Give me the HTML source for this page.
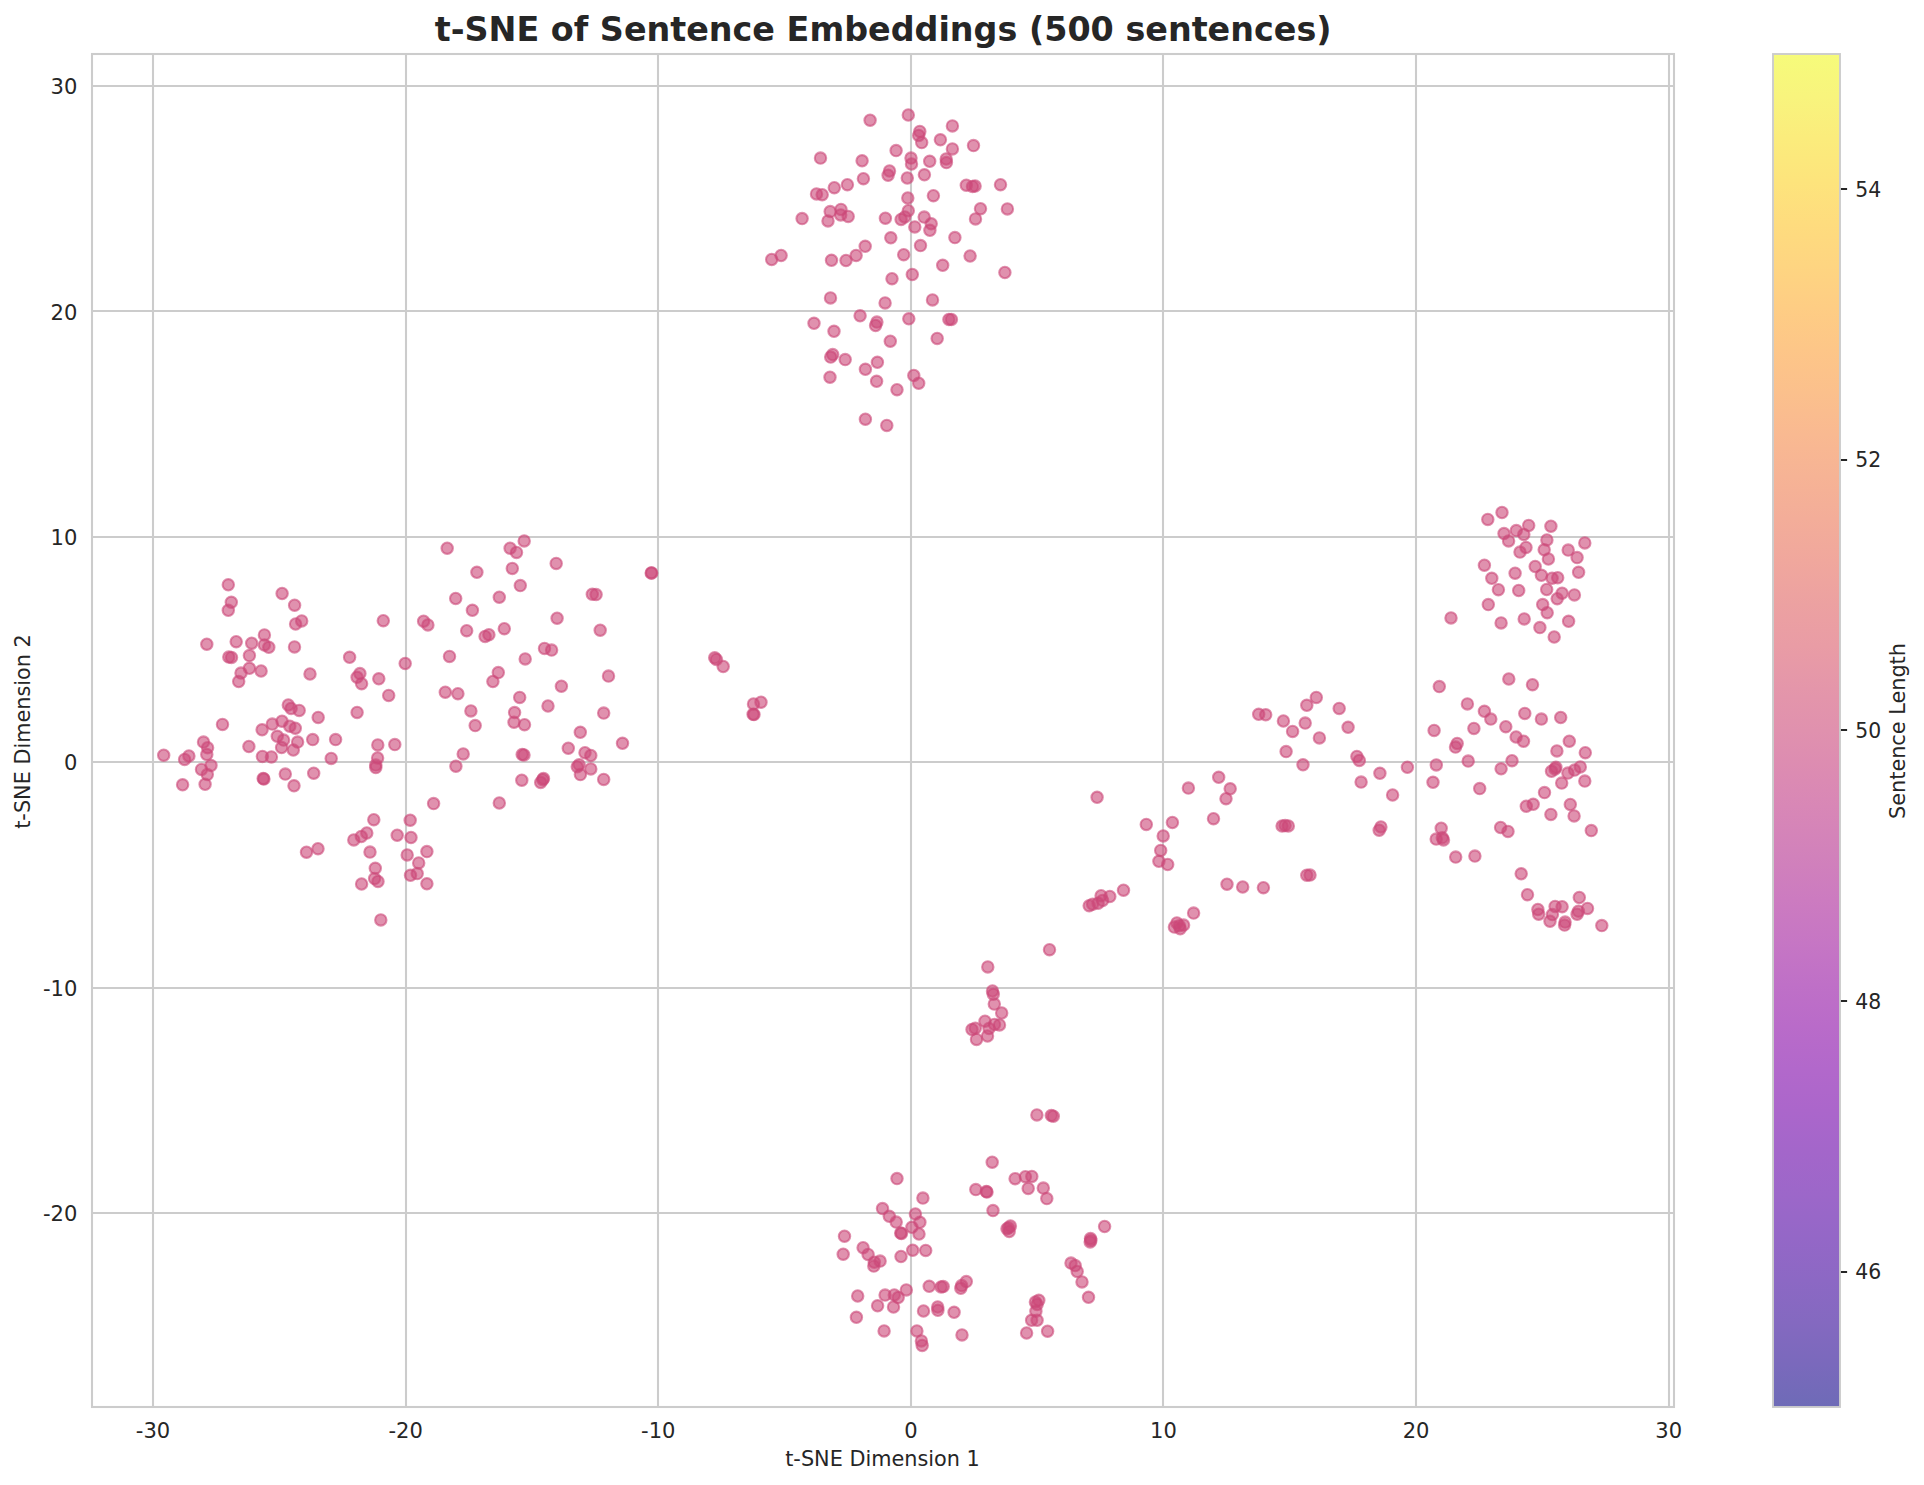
<!DOCTYPE html>
<html><head><meta charset="utf-8"><title>t-SNE of Sentence Embeddings</title>
<style>html,body{margin:0;padding:0;background:#fff;overflow:hidden;}svg{display:block;}text{font-family:"DejaVu Sans","Liberation Sans",sans-serif;fill:#262626;}</style></head><body>
<svg width="1924" height="1485" viewBox="0 0 1924 1485">
<rect width="1924" height="1485" fill="#ffffff"/>
<defs><linearGradient id="cb" x1="0" y1="0" x2="0" y2="1"><stop offset="0.0000" stop-color="#f6fb7a"/><stop offset="0.0312" stop-color="#f8f47d"/><stop offset="0.0625" stop-color="#fbec7c"/><stop offset="0.0938" stop-color="#fde47c"/><stop offset="0.1250" stop-color="#fedc7e"/><stop offset="0.1562" stop-color="#fed581"/><stop offset="0.1875" stop-color="#fecd84"/><stop offset="0.2188" stop-color="#fdc688"/><stop offset="0.2500" stop-color="#fbc08c"/><stop offset="0.2812" stop-color="#f9b991"/><stop offset="0.3125" stop-color="#f6b395"/><stop offset="0.3438" stop-color="#f3ad99"/><stop offset="0.3750" stop-color="#f0a79d"/><stop offset="0.4062" stop-color="#eca1a1"/><stop offset="0.4375" stop-color="#e99ca5"/><stop offset="0.4688" stop-color="#e496aa"/><stop offset="0.5000" stop-color="#e091ae"/><stop offset="0.5312" stop-color="#dc8bb2"/><stop offset="0.5625" stop-color="#d786b7"/><stop offset="0.5938" stop-color="#d181bb"/><stop offset="0.6250" stop-color="#cc7bc0"/><stop offset="0.6562" stop-color="#c676c4"/><stop offset="0.6875" stop-color="#bf70c7"/><stop offset="0.7188" stop-color="#b96bc9"/><stop offset="0.7500" stop-color="#b268cb"/><stop offset="0.7812" stop-color="#ab66cb"/><stop offset="0.8125" stop-color="#a366ca"/><stop offset="0.8438" stop-color="#9c67c9"/><stop offset="0.8750" stop-color="#9467c7"/><stop offset="0.9062" stop-color="#8c68c4"/><stop offset="0.9375" stop-color="#8469c0"/><stop offset="0.9688" stop-color="#7a69bc"/><stop offset="1.0000" stop-color="#6e6bb7"/></linearGradient>
<clipPath id="ax"><rect x="92" y="54" width="1582" height="1353"/></clipPath></defs>
<g stroke="#cccccc" stroke-width="2.08" fill="none"><line x1="153" y1="54" x2="153" y2="1407"/><line x1="406" y1="54" x2="406" y2="1407"/><line x1="658" y1="54" x2="658" y2="1407"/><line x1="911" y1="54" x2="911" y2="1407"/><line x1="1163" y1="54" x2="1163" y2="1407"/><line x1="1416" y1="54" x2="1416" y2="1407"/><line x1="1669" y1="54" x2="1669" y2="1407"/><line x1="92" y1="86" x2="1674" y2="86"/><line x1="92" y1="311" x2="1674" y2="311"/><line x1="92" y1="537" x2="1674" y2="537"/><line x1="92" y1="762" x2="1674" y2="762"/><line x1="92" y1="988" x2="1674" y2="988"/><line x1="92" y1="1213" x2="1674" y2="1213"/></g>
<g clip-path="url(#ax)" fill="#cc4778" fill-opacity="0.6" stroke="#cc4778" stroke-opacity="0.6" stroke-width="2.08"><circle cx="908.3" cy="115.0" r="5.7"/>
<circle cx="870.1" cy="120.2" r="5.7"/>
<circle cx="952.4" cy="125.9" r="5.7"/>
<circle cx="919.8" cy="131.4" r="5.7"/>
<circle cx="918.7" cy="135.4" r="5.7"/>
<circle cx="921.7" cy="142.6" r="5.7"/>
<circle cx="940.4" cy="139.8" r="5.7"/>
<circle cx="973.5" cy="145.6" r="5.7"/>
<circle cx="952.4" cy="148.9" r="5.7"/>
<circle cx="896.1" cy="150.6" r="5.7"/>
<circle cx="820.5" cy="158.1" r="5.7"/>
<circle cx="862.1" cy="160.8" r="5.7"/>
<circle cx="911.0" cy="158.1" r="5.7"/>
<circle cx="911.5" cy="164.0" r="5.7"/>
<circle cx="929.7" cy="161.3" r="5.7"/>
<circle cx="946.2" cy="159.0" r="5.7"/>
<circle cx="946.4" cy="162.6" r="5.7"/>
<circle cx="889.5" cy="171.0" r="5.7"/>
<circle cx="888.1" cy="175.2" r="5.7"/>
<circle cx="924.4" cy="174.8" r="5.7"/>
<circle cx="907.3" cy="178.0" r="5.7"/>
<circle cx="863.4" cy="178.7" r="5.7"/>
<circle cx="847.4" cy="184.7" r="5.7"/>
<circle cx="834.3" cy="187.7" r="5.7"/>
<circle cx="816.5" cy="193.9" r="5.7"/>
<circle cx="822.2" cy="194.7" r="5.7"/>
<circle cx="966.3" cy="185.2" r="5.7"/>
<circle cx="972.5" cy="186.5" r="5.7"/>
<circle cx="975.1" cy="186.0" r="5.7"/>
<circle cx="1000.5" cy="184.7" r="5.7"/>
<circle cx="933.4" cy="195.7" r="5.7"/>
<circle cx="907.8" cy="198.0" r="5.7"/>
<circle cx="980.5" cy="208.7" r="5.7"/>
<circle cx="1007.4" cy="208.9" r="5.7"/>
<circle cx="908.3" cy="210.7" r="5.7"/>
<circle cx="841.0" cy="209.4" r="5.7"/>
<circle cx="830.2" cy="211.6" r="5.7"/>
<circle cx="840.7" cy="214.9" r="5.7"/>
<circle cx="848.2" cy="216.4" r="5.7"/>
<circle cx="828.0" cy="220.9" r="5.7"/>
<circle cx="802.1" cy="218.6" r="5.7"/>
<circle cx="885.4" cy="218.2" r="5.7"/>
<circle cx="904.8" cy="216.9" r="5.7"/>
<circle cx="901.1" cy="219.4" r="5.7"/>
<circle cx="924.2" cy="217.1" r="5.7"/>
<circle cx="931.2" cy="223.8" r="5.7"/>
<circle cx="929.9" cy="230.3" r="5.7"/>
<circle cx="914.8" cy="226.9" r="5.7"/>
<circle cx="975.5" cy="218.9" r="5.7"/>
<circle cx="890.8" cy="237.8" r="5.7"/>
<circle cx="954.9" cy="237.6" r="5.7"/>
<circle cx="865.2" cy="246.3" r="5.7"/>
<circle cx="920.5" cy="245.6" r="5.7"/>
<circle cx="856.1" cy="255.5" r="5.7"/>
<circle cx="846.0" cy="260.5" r="5.7"/>
<circle cx="831.5" cy="260.3" r="5.7"/>
<circle cx="781.1" cy="255.5" r="5.7"/>
<circle cx="771.7" cy="259.5" r="5.7"/>
<circle cx="903.7" cy="254.7" r="5.7"/>
<circle cx="970.1" cy="256.0" r="5.7"/>
<circle cx="942.7" cy="265.3" r="5.7"/>
<circle cx="912.3" cy="274.5" r="5.7"/>
<circle cx="892.0" cy="278.7" r="5.7"/>
<circle cx="1004.9" cy="272.5" r="5.7"/>
<circle cx="830.5" cy="297.9" r="5.7"/>
<circle cx="885.1" cy="302.9" r="5.7"/>
<circle cx="932.5" cy="299.9" r="5.7"/>
<circle cx="860.1" cy="315.8" r="5.7"/>
<circle cx="908.8" cy="318.8" r="5.7"/>
<circle cx="948.9" cy="319.4" r="5.7"/>
<circle cx="951.4" cy="319.4" r="5.7"/>
<circle cx="814.0" cy="323.3" r="5.7"/>
<circle cx="876.9" cy="322.1" r="5.7"/>
<circle cx="875.6" cy="325.5" r="5.7"/>
<circle cx="834.0" cy="331.3" r="5.7"/>
<circle cx="890.3" cy="341.2" r="5.7"/>
<circle cx="937.2" cy="338.4" r="5.7"/>
<circle cx="832.7" cy="354.6" r="5.7"/>
<circle cx="830.7" cy="357.1" r="5.7"/>
<circle cx="845.2" cy="359.6" r="5.7"/>
<circle cx="877.4" cy="362.3" r="5.7"/>
<circle cx="865.4" cy="369.3" r="5.7"/>
<circle cx="830.0" cy="377.2" r="5.7"/>
<circle cx="876.6" cy="381.3" r="5.7"/>
<circle cx="913.8" cy="375.5" r="5.7"/>
<circle cx="918.7" cy="383.2" r="5.7"/>
<circle cx="897.0" cy="389.7" r="5.7"/>
<circle cx="865.4" cy="419.2" r="5.7"/>
<circle cx="886.8" cy="425.4" r="5.7"/>
<circle cx="228.3" cy="584.8" r="5.7"/>
<circle cx="231.3" cy="602.3" r="5.7"/>
<circle cx="228.3" cy="610.3" r="5.7"/>
<circle cx="282.1" cy="593.5" r="5.7"/>
<circle cx="294.6" cy="605.2" r="5.7"/>
<circle cx="301.7" cy="620.9" r="5.7"/>
<circle cx="295.6" cy="624.0" r="5.7"/>
<circle cx="383.3" cy="620.7" r="5.7"/>
<circle cx="423.6" cy="621.2" r="5.7"/>
<circle cx="427.9" cy="624.9" r="5.7"/>
<circle cx="264.4" cy="634.9" r="5.7"/>
<circle cx="236.2" cy="641.7" r="5.7"/>
<circle cx="251.7" cy="643.2" r="5.7"/>
<circle cx="206.8" cy="644.2" r="5.7"/>
<circle cx="264.4" cy="644.9" r="5.7"/>
<circle cx="268.8" cy="647.3" r="5.7"/>
<circle cx="294.5" cy="646.9" r="5.7"/>
<circle cx="228.8" cy="657.1" r="5.7"/>
<circle cx="231.5" cy="657.4" r="5.7"/>
<circle cx="249.4" cy="655.6" r="5.7"/>
<circle cx="349.6" cy="657.3" r="5.7"/>
<circle cx="405.2" cy="663.5" r="5.7"/>
<circle cx="249.4" cy="668.3" r="5.7"/>
<circle cx="261.1" cy="671.0" r="5.7"/>
<circle cx="241.0" cy="673.1" r="5.7"/>
<circle cx="238.7" cy="681.5" r="5.7"/>
<circle cx="310.0" cy="674.0" r="5.7"/>
<circle cx="359.9" cy="673.6" r="5.7"/>
<circle cx="357.1" cy="677.3" r="5.7"/>
<circle cx="361.6" cy="683.7" r="5.7"/>
<circle cx="378.8" cy="678.8" r="5.7"/>
<circle cx="388.7" cy="695.4" r="5.7"/>
<circle cx="445.3" cy="692.2" r="5.7"/>
<circle cx="288.3" cy="705.0" r="5.7"/>
<circle cx="291.1" cy="708.4" r="5.7"/>
<circle cx="299.2" cy="710.4" r="5.7"/>
<circle cx="318.2" cy="717.4" r="5.7"/>
<circle cx="357.1" cy="712.4" r="5.7"/>
<circle cx="222.5" cy="724.4" r="5.7"/>
<circle cx="282.0" cy="721.2" r="5.7"/>
<circle cx="272.3" cy="724.1" r="5.7"/>
<circle cx="289.8" cy="726.2" r="5.7"/>
<circle cx="295.3" cy="728.2" r="5.7"/>
<circle cx="262.1" cy="729.8" r="5.7"/>
<circle cx="277.3" cy="736.3" r="5.7"/>
<circle cx="283.6" cy="740.1" r="5.7"/>
<circle cx="297.6" cy="742.1" r="5.7"/>
<circle cx="312.7" cy="739.6" r="5.7"/>
<circle cx="335.6" cy="739.6" r="5.7"/>
<circle cx="203.5" cy="742.1" r="5.7"/>
<circle cx="377.8" cy="744.9" r="5.7"/>
<circle cx="394.8" cy="744.6" r="5.7"/>
<circle cx="447.2" cy="548.2" r="5.7"/>
<circle cx="524.2" cy="540.9" r="5.7"/>
<circle cx="510.1" cy="548.2" r="5.7"/>
<circle cx="516.5" cy="552.4" r="5.7"/>
<circle cx="556.2" cy="563.4" r="5.7"/>
<circle cx="512.3" cy="568.4" r="5.7"/>
<circle cx="476.9" cy="572.3" r="5.7"/>
<circle cx="651.2" cy="572.9" r="5.7"/>
<circle cx="651.7" cy="572.9" r="5.7"/>
<circle cx="520.3" cy="585.6" r="5.7"/>
<circle cx="499.3" cy="597.2" r="5.7"/>
<circle cx="455.7" cy="598.5" r="5.7"/>
<circle cx="592.3" cy="594.3" r="5.7"/>
<circle cx="596.1" cy="594.6" r="5.7"/>
<circle cx="472.4" cy="610.3" r="5.7"/>
<circle cx="557.1" cy="618.2" r="5.7"/>
<circle cx="504.3" cy="628.7" r="5.7"/>
<circle cx="466.7" cy="630.7" r="5.7"/>
<circle cx="488.9" cy="634.7" r="5.7"/>
<circle cx="485.1" cy="636.4" r="5.7"/>
<circle cx="600.2" cy="630.2" r="5.7"/>
<circle cx="544.5" cy="648.4" r="5.7"/>
<circle cx="551.6" cy="650.1" r="5.7"/>
<circle cx="449.5" cy="656.4" r="5.7"/>
<circle cx="525.2" cy="658.9" r="5.7"/>
<circle cx="714.7" cy="657.8" r="5.7"/>
<circle cx="716.4" cy="659.4" r="5.7"/>
<circle cx="723.2" cy="666.5" r="5.7"/>
<circle cx="498.3" cy="672.6" r="5.7"/>
<circle cx="492.9" cy="681.5" r="5.7"/>
<circle cx="608.5" cy="676.1" r="5.7"/>
<circle cx="561.4" cy="686.2" r="5.7"/>
<circle cx="457.9" cy="693.7" r="5.7"/>
<circle cx="519.7" cy="697.4" r="5.7"/>
<circle cx="548.0" cy="706.0" r="5.7"/>
<circle cx="470.9" cy="710.9" r="5.7"/>
<circle cx="514.6" cy="712.6" r="5.7"/>
<circle cx="603.7" cy="713.1" r="5.7"/>
<circle cx="753.5" cy="704.0" r="5.7"/>
<circle cx="761.0" cy="702.2" r="5.7"/>
<circle cx="753.1" cy="714.2" r="5.7"/>
<circle cx="754.0" cy="714.6" r="5.7"/>
<circle cx="514.0" cy="722.2" r="5.7"/>
<circle cx="524.5" cy="724.7" r="5.7"/>
<circle cx="475.2" cy="725.6" r="5.7"/>
<circle cx="580.3" cy="732.3" r="5.7"/>
<circle cx="622.5" cy="743.3" r="5.7"/>
<circle cx="207.6" cy="747.7" r="5.7"/>
<circle cx="206.8" cy="754.4" r="5.7"/>
<circle cx="248.9" cy="746.5" r="5.7"/>
<circle cx="281.6" cy="747.5" r="5.7"/>
<circle cx="293.3" cy="750.0" r="5.7"/>
<circle cx="163.7" cy="755.2" r="5.7"/>
<circle cx="188.9" cy="756.0" r="5.7"/>
<circle cx="184.6" cy="759.4" r="5.7"/>
<circle cx="262.4" cy="756.4" r="5.7"/>
<circle cx="271.4" cy="756.9" r="5.7"/>
<circle cx="331.2" cy="758.4" r="5.7"/>
<circle cx="377.6" cy="758.0" r="5.7"/>
<circle cx="375.8" cy="765.1" r="5.7"/>
<circle cx="375.8" cy="767.6" r="5.7"/>
<circle cx="211.0" cy="765.4" r="5.7"/>
<circle cx="201.5" cy="769.4" r="5.7"/>
<circle cx="207.3" cy="774.6" r="5.7"/>
<circle cx="205.1" cy="784.3" r="5.7"/>
<circle cx="182.6" cy="784.8" r="5.7"/>
<circle cx="263.2" cy="778.4" r="5.7"/>
<circle cx="263.9" cy="779.1" r="5.7"/>
<circle cx="285.3" cy="774.1" r="5.7"/>
<circle cx="313.7" cy="773.2" r="5.7"/>
<circle cx="294.0" cy="785.8" r="5.7"/>
<circle cx="433.6" cy="803.6" r="5.7"/>
<circle cx="373.8" cy="819.7" r="5.7"/>
<circle cx="410.2" cy="820.2" r="5.7"/>
<circle cx="366.8" cy="833.0" r="5.7"/>
<circle cx="361.3" cy="836.5" r="5.7"/>
<circle cx="353.8" cy="839.9" r="5.7"/>
<circle cx="397.2" cy="835.2" r="5.7"/>
<circle cx="411.0" cy="837.5" r="5.7"/>
<circle cx="318.0" cy="848.7" r="5.7"/>
<circle cx="306.5" cy="852.2" r="5.7"/>
<circle cx="370.0" cy="852.1" r="5.7"/>
<circle cx="407.2" cy="854.9" r="5.7"/>
<circle cx="426.9" cy="851.6" r="5.7"/>
<circle cx="418.7" cy="862.9" r="5.7"/>
<circle cx="375.3" cy="868.3" r="5.7"/>
<circle cx="417.2" cy="873.6" r="5.7"/>
<circle cx="410.5" cy="875.3" r="5.7"/>
<circle cx="374.6" cy="878.6" r="5.7"/>
<circle cx="378.0" cy="881.4" r="5.7"/>
<circle cx="361.6" cy="884.0" r="5.7"/>
<circle cx="426.9" cy="883.8" r="5.7"/>
<circle cx="380.8" cy="919.9" r="5.7"/>
<circle cx="568.3" cy="748.2" r="5.7"/>
<circle cx="585.0" cy="752.7" r="5.7"/>
<circle cx="590.8" cy="755.5" r="5.7"/>
<circle cx="463.2" cy="753.9" r="5.7"/>
<circle cx="522.2" cy="754.5" r="5.7"/>
<circle cx="524.0" cy="754.9" r="5.7"/>
<circle cx="455.9" cy="766.2" r="5.7"/>
<circle cx="579.1" cy="764.7" r="5.7"/>
<circle cx="577.3" cy="766.7" r="5.7"/>
<circle cx="580.4" cy="774.6" r="5.7"/>
<circle cx="590.8" cy="768.9" r="5.7"/>
<circle cx="603.7" cy="779.4" r="5.7"/>
<circle cx="521.8" cy="780.2" r="5.7"/>
<circle cx="543.5" cy="778.4" r="5.7"/>
<circle cx="542.7" cy="779.7" r="5.7"/>
<circle cx="540.7" cy="782.4" r="5.7"/>
<circle cx="499.3" cy="803.0" r="5.7"/>
<circle cx="1502.0" cy="512.5" r="5.7"/>
<circle cx="1487.8" cy="519.4" r="5.7"/>
<circle cx="1528.7" cy="525.4" r="5.7"/>
<circle cx="1550.9" cy="526.2" r="5.7"/>
<circle cx="1516.3" cy="530.6" r="5.7"/>
<circle cx="1523.8" cy="534.4" r="5.7"/>
<circle cx="1504.0" cy="533.6" r="5.7"/>
<circle cx="1508.6" cy="540.9" r="5.7"/>
<circle cx="1546.9" cy="539.9" r="5.7"/>
<circle cx="1584.8" cy="542.9" r="5.7"/>
<circle cx="1526.0" cy="547.4" r="5.7"/>
<circle cx="1520.0" cy="552.1" r="5.7"/>
<circle cx="1544.2" cy="549.8" r="5.7"/>
<circle cx="1568.2" cy="550.1" r="5.7"/>
<circle cx="1577.1" cy="557.6" r="5.7"/>
<circle cx="1548.4" cy="559.0" r="5.7"/>
<circle cx="1484.4" cy="565.2" r="5.7"/>
<circle cx="1535.2" cy="566.5" r="5.7"/>
<circle cx="1515.1" cy="573.2" r="5.7"/>
<circle cx="1578.6" cy="572.3" r="5.7"/>
<circle cx="1541.4" cy="575.3" r="5.7"/>
<circle cx="1552.1" cy="578.2" r="5.7"/>
<circle cx="1557.7" cy="577.7" r="5.7"/>
<circle cx="1491.8" cy="578.3" r="5.7"/>
<circle cx="1498.4" cy="589.7" r="5.7"/>
<circle cx="1518.7" cy="590.5" r="5.7"/>
<circle cx="1546.7" cy="589.5" r="5.7"/>
<circle cx="1562.1" cy="593.2" r="5.7"/>
<circle cx="1574.4" cy="594.9" r="5.7"/>
<circle cx="1557.2" cy="598.7" r="5.7"/>
<circle cx="1488.3" cy="604.6" r="5.7"/>
<circle cx="1542.7" cy="604.6" r="5.7"/>
<circle cx="1547.2" cy="612.7" r="5.7"/>
<circle cx="1451.0" cy="617.9" r="5.7"/>
<circle cx="1524.2" cy="618.9" r="5.7"/>
<circle cx="1501.1" cy="622.9" r="5.7"/>
<circle cx="1568.6" cy="621.3" r="5.7"/>
<circle cx="1539.9" cy="627.6" r="5.7"/>
<circle cx="1554.2" cy="637.0" r="5.7"/>
<circle cx="1508.8" cy="679.0" r="5.7"/>
<circle cx="1532.5" cy="684.7" r="5.7"/>
<circle cx="1439.3" cy="686.6" r="5.7"/>
<circle cx="1467.4" cy="703.9" r="5.7"/>
<circle cx="1484.4" cy="711.3" r="5.7"/>
<circle cx="1524.8" cy="713.4" r="5.7"/>
<circle cx="1490.8" cy="719.1" r="5.7"/>
<circle cx="1541.4" cy="719.1" r="5.7"/>
<circle cx="1560.7" cy="717.5" r="5.7"/>
<circle cx="1505.8" cy="726.7" r="5.7"/>
<circle cx="1473.9" cy="728.4" r="5.7"/>
<circle cx="1434.1" cy="730.4" r="5.7"/>
<circle cx="1516.1" cy="737.0" r="5.7"/>
<circle cx="1523.5" cy="741.2" r="5.7"/>
<circle cx="1569.3" cy="741.2" r="5.7"/>
<circle cx="1457.2" cy="743.4" r="5.7"/>
<circle cx="1455.5" cy="747.1" r="5.7"/>
<circle cx="1556.9" cy="750.9" r="5.7"/>
<circle cx="1585.3" cy="752.7" r="5.7"/>
<circle cx="1468.2" cy="761.1" r="5.7"/>
<circle cx="1512.0" cy="760.7" r="5.7"/>
<circle cx="1436.3" cy="764.9" r="5.7"/>
<circle cx="1407.4" cy="767.3" r="5.7"/>
<circle cx="1501.1" cy="768.8" r="5.7"/>
<circle cx="1555.9" cy="767.3" r="5.7"/>
<circle cx="1555.1" cy="768.9" r="5.7"/>
<circle cx="1551.5" cy="771.3" r="5.7"/>
<circle cx="1580.3" cy="766.9" r="5.7"/>
<circle cx="1574.6" cy="770.1" r="5.7"/>
<circle cx="1567.9" cy="773.1" r="5.7"/>
<circle cx="1379.9" cy="773.3" r="5.7"/>
<circle cx="1433.0" cy="782.3" r="5.7"/>
<circle cx="1561.7" cy="783.1" r="5.7"/>
<circle cx="1584.8" cy="781.1" r="5.7"/>
<circle cx="1479.7" cy="788.6" r="5.7"/>
<circle cx="1544.5" cy="792.6" r="5.7"/>
<circle cx="1392.6" cy="795.0" r="5.7"/>
<circle cx="1533.2" cy="804.3" r="5.7"/>
<circle cx="1526.3" cy="806.2" r="5.7"/>
<circle cx="1570.3" cy="804.5" r="5.7"/>
<circle cx="1550.9" cy="814.4" r="5.7"/>
<circle cx="1574.1" cy="815.9" r="5.7"/>
<circle cx="1380.9" cy="826.9" r="5.7"/>
<circle cx="1379.2" cy="830.2" r="5.7"/>
<circle cx="1441.2" cy="828.2" r="5.7"/>
<circle cx="1436.2" cy="839.1" r="5.7"/>
<circle cx="1442.3" cy="837.7" r="5.7"/>
<circle cx="1443.5" cy="839.9" r="5.7"/>
<circle cx="1500.6" cy="827.5" r="5.7"/>
<circle cx="1508.0" cy="831.4" r="5.7"/>
<circle cx="1591.3" cy="830.6" r="5.7"/>
<circle cx="1455.7" cy="857.1" r="5.7"/>
<circle cx="1474.9" cy="856.1" r="5.7"/>
<circle cx="1521.2" cy="873.8" r="5.7"/>
<circle cx="1527.5" cy="894.7" r="5.7"/>
<circle cx="1579.3" cy="897.5" r="5.7"/>
<circle cx="1537.9" cy="909.5" r="5.7"/>
<circle cx="1538.7" cy="914.2" r="5.7"/>
<circle cx="1555.1" cy="906.4" r="5.7"/>
<circle cx="1562.1" cy="906.7" r="5.7"/>
<circle cx="1552.4" cy="914.6" r="5.7"/>
<circle cx="1550.0" cy="921.2" r="5.7"/>
<circle cx="1587.5" cy="908.4" r="5.7"/>
<circle cx="1578.4" cy="911.2" r="5.7"/>
<circle cx="1577.1" cy="914.2" r="5.7"/>
<circle cx="1565.1" cy="922.1" r="5.7"/>
<circle cx="1564.6" cy="925.1" r="5.7"/>
<circle cx="1601.8" cy="925.6" r="5.7"/>
<circle cx="1316.3" cy="697.4" r="5.7"/>
<circle cx="1306.8" cy="705.3" r="5.7"/>
<circle cx="1339.2" cy="708.4" r="5.7"/>
<circle cx="1258.7" cy="714.3" r="5.7"/>
<circle cx="1265.7" cy="714.8" r="5.7"/>
<circle cx="1283.4" cy="721.0" r="5.7"/>
<circle cx="1305.2" cy="723.1" r="5.7"/>
<circle cx="1348.1" cy="727.3" r="5.7"/>
<circle cx="1292.6" cy="731.4" r="5.7"/>
<circle cx="1319.4" cy="737.9" r="5.7"/>
<circle cx="1286.1" cy="751.6" r="5.7"/>
<circle cx="1356.9" cy="756.4" r="5.7"/>
<circle cx="1359.3" cy="760.4" r="5.7"/>
<circle cx="1303.0" cy="764.8" r="5.7"/>
<circle cx="1361.1" cy="782.1" r="5.7"/>
<circle cx="1218.7" cy="777.3" r="5.7"/>
<circle cx="1230.2" cy="788.8" r="5.7"/>
<circle cx="1188.4" cy="788.1" r="5.7"/>
<circle cx="1226.0" cy="798.7" r="5.7"/>
<circle cx="1097.1" cy="797.3" r="5.7"/>
<circle cx="1213.5" cy="818.7" r="5.7"/>
<circle cx="1172.4" cy="822.5" r="5.7"/>
<circle cx="1146.3" cy="824.4" r="5.7"/>
<circle cx="1163.2" cy="835.9" r="5.7"/>
<circle cx="1160.7" cy="850.4" r="5.7"/>
<circle cx="1158.9" cy="861.3" r="5.7"/>
<circle cx="1167.7" cy="864.5" r="5.7"/>
<circle cx="1282.1" cy="826.0" r="5.7"/>
<circle cx="1285.1" cy="825.4" r="5.7"/>
<circle cx="1288.3" cy="825.9" r="5.7"/>
<circle cx="1306.8" cy="875.3" r="5.7"/>
<circle cx="1310.0" cy="875.1" r="5.7"/>
<circle cx="1227.0" cy="884.2" r="5.7"/>
<circle cx="1242.7" cy="887.0" r="5.7"/>
<circle cx="1263.4" cy="887.7" r="5.7"/>
<circle cx="1123.5" cy="890.2" r="5.7"/>
<circle cx="1109.8" cy="896.5" r="5.7"/>
<circle cx="1101.1" cy="895.7" r="5.7"/>
<circle cx="1102.6" cy="900.4" r="5.7"/>
<circle cx="1098.1" cy="903.2" r="5.7"/>
<circle cx="1092.6" cy="904.2" r="5.7"/>
<circle cx="1089.2" cy="905.7" r="5.7"/>
<circle cx="1193.6" cy="913.1" r="5.7"/>
<circle cx="1176.9" cy="922.9" r="5.7"/>
<circle cx="1183.6" cy="925.1" r="5.7"/>
<circle cx="1174.4" cy="927.1" r="5.7"/>
<circle cx="1180.2" cy="928.8" r="5.7"/>
<circle cx="1179.4" cy="925.7" r="5.7"/>
<circle cx="1049.5" cy="949.7" r="5.7"/>
<circle cx="987.8" cy="966.9" r="5.7"/>
<circle cx="992.5" cy="991.0" r="5.7"/>
<circle cx="993.3" cy="994.3" r="5.7"/>
<circle cx="994.3" cy="1004.1" r="5.7"/>
<circle cx="1001.7" cy="1013.0" r="5.7"/>
<circle cx="985.0" cy="1021.2" r="5.7"/>
<circle cx="999.5" cy="1024.9" r="5.7"/>
<circle cx="994.5" cy="1024.4" r="5.7"/>
<circle cx="989.0" cy="1028.5" r="5.7"/>
<circle cx="972.0" cy="1029.4" r="5.7"/>
<circle cx="975.3" cy="1028.2" r="5.7"/>
<circle cx="987.5" cy="1036.0" r="5.7"/>
<circle cx="976.5" cy="1039.4" r="5.7"/>
<circle cx="1036.9" cy="1114.9" r="5.7"/>
<circle cx="1051.3" cy="1115.4" r="5.7"/>
<circle cx="1053.3" cy="1116.2" r="5.7"/>
<circle cx="992.2" cy="1162.2" r="5.7"/>
<circle cx="897.0" cy="1178.6" r="5.7"/>
<circle cx="1015.1" cy="1178.7" r="5.7"/>
<circle cx="1025.4" cy="1176.7" r="5.7"/>
<circle cx="1031.8" cy="1176.4" r="5.7"/>
<circle cx="1028.2" cy="1188.4" r="5.7"/>
<circle cx="1043.3" cy="1188.1" r="5.7"/>
<circle cx="1046.8" cy="1198.6" r="5.7"/>
<circle cx="975.8" cy="1189.6" r="5.7"/>
<circle cx="986.3" cy="1191.6" r="5.7"/>
<circle cx="987.0" cy="1192.1" r="5.7"/>
<circle cx="922.9" cy="1198.1" r="5.7"/>
<circle cx="882.5" cy="1208.6" r="5.7"/>
<circle cx="993.0" cy="1210.6" r="5.7"/>
<circle cx="889.3" cy="1216.3" r="5.7"/>
<circle cx="915.4" cy="1214.0" r="5.7"/>
<circle cx="896.2" cy="1222.1" r="5.7"/>
<circle cx="919.9" cy="1222.3" r="5.7"/>
<circle cx="911.9" cy="1227.3" r="5.7"/>
<circle cx="900.7" cy="1233.0" r="5.7"/>
<circle cx="901.5" cy="1233.5" r="5.7"/>
<circle cx="919.0" cy="1234.0" r="5.7"/>
<circle cx="1010.4" cy="1226.0" r="5.7"/>
<circle cx="1007.0" cy="1228.8" r="5.7"/>
<circle cx="1009.2" cy="1231.5" r="5.7"/>
<circle cx="1008.7" cy="1227.7" r="5.7"/>
<circle cx="1104.6" cy="1226.5" r="5.7"/>
<circle cx="1090.5" cy="1238.5" r="5.7"/>
<circle cx="1090.9" cy="1240.2" r="5.7"/>
<circle cx="1090.2" cy="1241.9" r="5.7"/>
<circle cx="844.5" cy="1236.2" r="5.7"/>
<circle cx="863.1" cy="1247.7" r="5.7"/>
<circle cx="843.2" cy="1254.2" r="5.7"/>
<circle cx="868.1" cy="1254.4" r="5.7"/>
<circle cx="912.7" cy="1250.2" r="5.7"/>
<circle cx="925.7" cy="1250.4" r="5.7"/>
<circle cx="901.0" cy="1256.5" r="5.7"/>
<circle cx="880.1" cy="1261.1" r="5.7"/>
<circle cx="874.3" cy="1262.2" r="5.7"/>
<circle cx="873.8" cy="1266.1" r="5.7"/>
<circle cx="1071.0" cy="1263.1" r="5.7"/>
<circle cx="1075.2" cy="1265.6" r="5.7"/>
<circle cx="1077.2" cy="1271.4" r="5.7"/>
<circle cx="1082.0" cy="1281.9" r="5.7"/>
<circle cx="1088.5" cy="1297.3" r="5.7"/>
<circle cx="966.3" cy="1281.6" r="5.7"/>
<circle cx="961.6" cy="1285.6" r="5.7"/>
<circle cx="960.8" cy="1288.3" r="5.7"/>
<circle cx="929.2" cy="1286.3" r="5.7"/>
<circle cx="941.1" cy="1286.9" r="5.7"/>
<circle cx="943.2" cy="1286.6" r="5.7"/>
<circle cx="906.3" cy="1289.9" r="5.7"/>
<circle cx="857.7" cy="1296.0" r="5.7"/>
<circle cx="885.1" cy="1295.1" r="5.7"/>
<circle cx="894.3" cy="1295.0" r="5.7"/>
<circle cx="898.2" cy="1297.5" r="5.7"/>
<circle cx="877.6" cy="1305.8" r="5.7"/>
<circle cx="893.5" cy="1307.0" r="5.7"/>
<circle cx="1038.8" cy="1300.3" r="5.7"/>
<circle cx="1035.4" cy="1302.0" r="5.7"/>
<circle cx="1037.1" cy="1304.5" r="5.7"/>
<circle cx="1035.9" cy="1311.3" r="5.7"/>
<circle cx="937.7" cy="1307.0" r="5.7"/>
<circle cx="937.9" cy="1310.3" r="5.7"/>
<circle cx="923.5" cy="1311.0" r="5.7"/>
<circle cx="954.1" cy="1312.3" r="5.7"/>
<circle cx="856.4" cy="1317.3" r="5.7"/>
<circle cx="1031.6" cy="1320.3" r="5.7"/>
<circle cx="1037.1" cy="1320.3" r="5.7"/>
<circle cx="884.1" cy="1330.9" r="5.7"/>
<circle cx="916.9" cy="1330.9" r="5.7"/>
<circle cx="962.0" cy="1334.9" r="5.7"/>
<circle cx="1026.6" cy="1333.0" r="5.7"/>
<circle cx="1047.6" cy="1331.2" r="5.7"/>
<circle cx="921.4" cy="1340.9" r="5.7"/>
<circle cx="922.2" cy="1345.4" r="5.7"/></g>
<rect x="92" y="54" width="1582" height="1353" fill="none" stroke="#cccccc" stroke-width="2.08"/>
<g font-size="21.6"><text transform="translate(152.99,1437.8) scale(0.975,1)" text-anchor="middle">-30</text><text transform="translate(405.61,1437.8) scale(0.975,1)" text-anchor="middle">-20</text><text transform="translate(658.23,1437.8) scale(0.975,1)" text-anchor="middle">-10</text><text transform="translate(910.85,1437.8) scale(0.975,1)" text-anchor="middle">0</text><text transform="translate(1163.47,1437.8) scale(0.975,1)" text-anchor="middle">10</text><text transform="translate(1416.09,1437.8) scale(0.975,1)" text-anchor="middle">20</text><text transform="translate(1668.71,1437.8) scale(0.975,1)" text-anchor="middle">30</text><text transform="translate(77.3,94.10) scale(0.975,1)" text-anchor="end">30</text><text transform="translate(77.3,319.50) scale(0.975,1)" text-anchor="end">20</text><text transform="translate(77.3,544.90) scale(0.975,1)" text-anchor="end">10</text><text transform="translate(77.3,770.30) scale(0.975,1)" text-anchor="end">0</text><text transform="translate(77.3,995.70) scale(0.975,1)" text-anchor="end">-10</text><text transform="translate(77.3,1221.10) scale(0.975,1)" text-anchor="end">-20</text></g>
<text x="882.5" y="1465.7" font-size="20.8" text-anchor="middle">t-SNE Dimension 1</text>
<text transform="translate(30,731.5) rotate(-90)" font-size="20.8" text-anchor="middle">t-SNE Dimension 2</text>
<text x="883.1" y="41" font-size="33.36" font-weight="bold" text-anchor="middle">t-SNE of Sentence Embeddings (500 sentences)</text>
<rect x="1773" y="54" width="67" height="1353" fill="url(#cb)" stroke="#cccccc" stroke-width="1.9"/>
<g stroke="#262626" stroke-width="2"><line x1="1840.95" y1="189" x2="1847.10" y2="189"/><line x1="1840.95" y1="460" x2="1847.10" y2="460"/><line x1="1840.95" y1="730" x2="1847.10" y2="730"/><line x1="1840.95" y1="1001" x2="1847.10" y2="1001"/><line x1="1840.95" y1="1272" x2="1847.10" y2="1272"/></g>
<g font-size="21.6"><text transform="translate(1855.3,196.70) scale(0.945,1)">54</text><text transform="translate(1855.3,467.30) scale(0.945,1)">52</text><text transform="translate(1855.3,737.90) scale(0.945,1)">50</text><text transform="translate(1855.3,1008.50) scale(0.945,1)">48</text><text transform="translate(1855.3,1279.10) scale(0.945,1)">46</text></g>
<text transform="translate(1904.5,731) rotate(-90)" font-size="20.8" text-anchor="middle">Sentence Length</text>
</svg></body></html>
